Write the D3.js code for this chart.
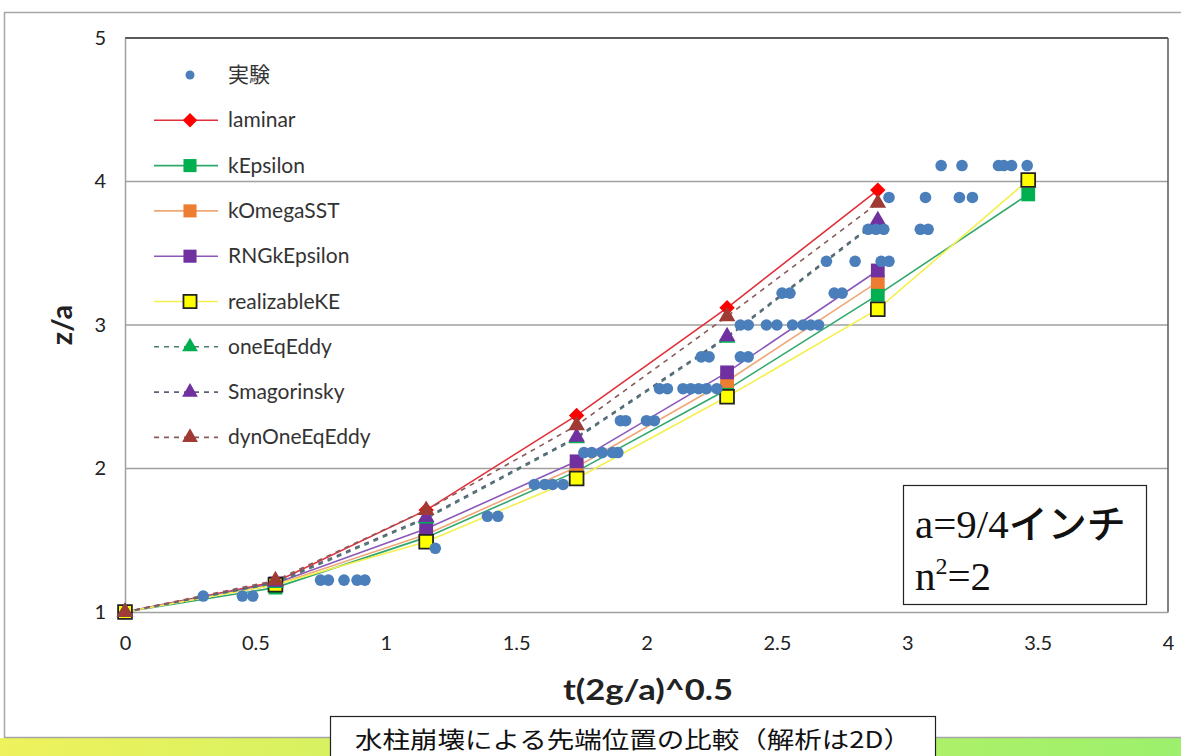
<!DOCTYPE html>
<html><head><meta charset="utf-8">
<script src="https://cdn.jsdelivr.net/npm/d3@7"></script>
<style>
html,body{margin:0;padding:0;background:#fff;}
svg{display:block;}
</style></head>
<body>
<svg id="c" width="1181" height="756"></svg>
<script>
// ---- data ----
const modelX = [0, 0.577, 1.155, 1.732, 2.309, 2.887, 3.464];
const laminar      = [1, 1.21, 1.71, 2.37, 3.12, 3.94];
const kEpsilon     = [1, 1.17, 1.52, 1.98, 2.55, 3.21, 3.91];
const kOmegaSST    = [1, 1.19, 1.54, 2.01, 2.61, 3.30];
const RNGkEpsilon  = [1, 1.20, 1.58, 2.05, 2.67, 3.38];
const realizableKE = [1, 1.19, 1.49, 1.93, 2.50, 3.11, 4.01];
const oneEqEddy    = [1, 1.20, 1.65, 2.21, 2.91, 3.72];
const Smagorinsky  = [1, 1.21, 1.66, 2.22, 2.92, 3.73];
const dynOneEqEddy = [1, 1.22, 1.71, 2.30, 3.06, 3.85];

const expX = [0.30,0.45,0.49, 0.75,0.78,0.84,0.89,0.92, 1.19, 1.39,1.43, 1.57,1.61,1.64,1.68,
  1.76,1.79,1.83,1.87,1.89, 1.90,1.92,2.00,2.03, 2.05,2.08,2.14,2.17,2.20,2.23,2.27,
  2.21,2.24,2.36,2.39, 2.36,2.39,2.46,2.50,2.56,2.60,2.63,2.66, 2.52,2.55,2.72,2.75,
  2.69,2.80,2.90,2.93, 2.85,2.88,2.91,3.05,3.08, 2.93,3.07,3.20,3.25, 3.13,3.21,3.35,3.37,3.40,3.46];
const expY = [1.111,1.111,1.111, 1.222,1.222,1.222,1.222,1.222, 1.444, 1.667,1.667, 1.889,1.889,1.889,1.889,
  2.111,2.111,2.111,2.111,2.111, 2.333,2.333,2.333,2.333, 2.556,2.556,2.556,2.556,2.556,2.556,2.556,
  2.778,2.778,2.778,2.778, 3.0,3.0,3.0,3.0,3.0,3.0,3.0,3.0, 3.222,3.222,3.222,3.222,
  3.444,3.444,3.444,3.444, 3.667,3.667,3.667,3.667,3.667, 3.889,3.889,3.889,3.889, 4.111,4.111,4.111,4.111,4.111,4.111];

const xTicks = [0, 0.5, 1, 1.5, 2, 2.5, 3, 3.5, 4];
const xTickLabels = ["0","0.5","1","1.5","2","2.5","3","3.5","4"];
const yTicks = [1, 2, 3, 4, 5];
const yTickLabels = ["1","2","3","4","5"];
const legendNames = ["実験","laminar","kEpsilon","kOmegaSST","RNGkEpsilon","realizableKE","oneEqEddy","Smagorinsky","dynOneEqEddy"];

// ---- series styling ----
const series = [
  {name:"laminar", y:laminar, line:"#e0303a", fill:"#ff0000", stroke:"none", sym:d3.symbolDiamond2, size:150, dash:null},
  {name:"kEpsilon", y:kEpsilon, line:"#30a86c", fill:"#00b050", stroke:"none", sym:d3.symbolSquare, size:190, dash:null},
  {name:"kOmegaSST", y:kOmegaSST, line:"#f0a878", fill:"#ed7d31", stroke:"none", sym:d3.symbolSquare, size:190, dash:null},
  {name:"RNGkEpsilon", y:RNGkEpsilon, line:"#8a58b8", fill:"#7030a0", stroke:"none", sym:d3.symbolSquare, size:190, dash:null},
  {name:"realizableKE", y:realizableKE, line:"#f4f050", fill:"#ffff00", stroke:"#222", sym:d3.symbolSquare, size:190, dash:null},
  {name:"oneEqEddy", y:oneEqEddy, line:"#4a7a70", fill:"#00b050", stroke:"none", sym:d3.symbolTriangle, size:120, dash:"5,5"},
  {name:"Smagorinsky", y:Smagorinsky, line:"#5a6078", fill:"#7030a0", stroke:"none", sym:d3.symbolTriangle, size:120, dash:"5,5"},
  {name:"dynOneEqEddy", y:dynOneEqEddy, line:"#8a5a5a", fill:"#a03a34", stroke:"none", sym:d3.symbolTriangle, size:120, dash:"5,5"}
];

const FONT = "Lato,'Liberation Sans',sans-serif";
const svg = d3.select("#c");
const W = 1181, H = 756;
const L = 125, R = 1168, T = 38, B = 612;

// bottom gradient band
const defs = svg.append("defs");
const g1 = defs.append("linearGradient").attr("id","band").attr("x1","0").attr("x2","1").attr("y1","0").attr("y2","0");
g1.append("stop").attr("offset","0").attr("stop-color","#eef25c");
g1.append("stop").attr("offset","1").attr("stop-color","#9cf06c");
svg.append("rect").attr("x",0).attr("y",738).attr("width",W).attr("height",H-738).attr("fill","url(#band)");
// outer chart frame
svg.append("rect").attr("x",4.5).attr("y",12.5).attr("width",W).attr("height",725).attr("fill","#fff").attr("stroke","#a6a6a6").attr("stroke-width",1.5);

const x = d3.scaleLinear().domain([0,4]).range([L,R]);
const y = d3.scaleLinear().domain([1,5]).range([B,T]);

// gridlines
svg.append("g").selectAll("line").data(yTicks.filter(v=>v>1 && v<5)).join("line")
  .attr("x1",L).attr("x2",R).attr("y1",d=>y(d)).attr("y2",d=>y(d))
  .attr("stroke","#a0a0a0").attr("stroke-width",1.5);
// plot frame top/right
svg.append("line").attr("x1",L).attr("x2",R).attr("y1",T).attr("y2",T).attr("stroke","#595959").attr("stroke-width",2);
svg.append("line").attr("x1",R).attr("x2",R).attr("y1",T).attr("y2",B).attr("stroke","#595959").attr("stroke-width",1.5);

// axes
const xAxis = d3.axisBottom(x).tickValues(xTicks).tickFormat((d,i)=>xTickLabels[i]).tickSize(0).tickPadding(24);
const gx = svg.append("g").attr("transform",`translate(0,${B})`).call(xAxis);
gx.select(".domain").attr("stroke","#a0a0a0").attr("stroke-width",1.5);
gx.selectAll("text").attr("font-family",FONT).attr("font-size",20).attr("fill","#222");
const yAxis = d3.axisLeft(y).tickValues(yTicks).tickFormat((d,i)=>yTickLabels[i]).tickSize(0).tickPadding(19);
const gy = svg.append("g").attr("transform",`translate(${L},0)`).call(yAxis);
gy.select(".domain").attr("stroke","#a0a0a0").attr("stroke-width",1.5);
gy.selectAll("text").attr("font-family",FONT).attr("font-size",20).attr("fill","#222");

// axis titles
svg.append("text").attr("x",648).attr("y",700).attr("text-anchor","middle")
  .attr("font-family",FONT).attr("font-weight","bold").attr("font-size",29).attr("fill","#222")
  .attr("textLength",170).attr("lengthAdjust","spacingAndGlyphs")
  .text("t(2g/a)^0.5");
svg.append("text").attr("transform",`translate(72,${(T+B)/2}) rotate(-90)`).attr("text-anchor","middle")
  .attr("font-family",FONT).attr("font-weight","bold").attr("font-size",29).attr("fill","#222")
  .text("z/a");

// lines
const lineGen = d3.line().x(d=>x(d[0])).y(d=>y(d[1]));
series.forEach(s=>{
  const pts = s.y.map((v,i)=>[modelX[i], v]);
  svg.append("path").attr("d",lineGen(pts)).attr("fill","none").attr("stroke",s.line).attr("stroke-width",1.6)
    .attr("stroke-dasharray",s.dash);
});
// markers (legend order, later on top)
series.forEach(s=>{
  const pts = s.y.map((v,i)=>[modelX[i], v]);
  svg.append("g").selectAll("path").data(pts).join("path")
    .attr("transform",d=>`translate(${x(d[0])},${y(d[1])})`)
    .attr("d",d3.symbol().type(s.sym).size(s.size))
    .attr("fill",s.fill).attr("stroke",s.stroke).attr("stroke-width",s.stroke==="none"?0:1.8);
});
// experiment points
const expPts = expX.map((v,i)=>[v, expY[i]]);
svg.append("g").selectAll("circle").data(expPts).join("circle")
  .attr("cx",d=>x(d[0])).attr("cy",d=>y(d[1])).attr("r",5.8).attr("fill","#4a7fbc");

// legend
const lg = svg.append("g");
const ly0 = 75, ldy = 45.3;
lg.append("circle").attr("cx",190).attr("cy",ly0).attr("r",4.5).attr("fill","#4a7fbc");
series.forEach((s,i)=>{
  const yy = ly0 + ldy*(i+1);
  lg.append("line").attr("x1",154).attr("x2",218).attr("y1",yy).attr("y2",yy).attr("stroke",s.line).attr("stroke-width",1.6).attr("stroke-dasharray",s.dash);
  lg.append("path").attr("transform",`translate(190,${yy})`).attr("d",d3.symbol().type(s.sym).size(s.size*0.9))
    .attr("fill",s.fill).attr("stroke",s.stroke).attr("stroke-width",s.stroke==="none"?0:1.8);
});
legendNames.forEach((n,i)=>{
  lg.append("text").attr("x",228).attr("y",ly0 + ldy*i + 7)
    .attr("font-family", i===0 ? "'Noto Sans CJK JP',sans-serif" : FONT)
    .attr("font-size",21).attr("fill","#333").text(n);
});

// annotation box
svg.append("rect").attr("x",903.5).attr("y",485.5).attr("width",243).attr("height",119).attr("fill","#fff").attr("stroke","#222").attr("stroke-width",1.2);
const t1 = svg.append("text").attr("x",915).attr("y",538).attr("font-family","'Liberation Serif',serif").attr("font-size",41).attr("fill","#111");
t1.append("tspan").text("a=9/4");
t1.append("tspan").attr("font-family","'Noto Sans CJK JP',sans-serif").attr("font-weight","500").attr("font-size",39).text("インチ");
const t2 = svg.append("text").attr("x",915).attr("y",590).attr("font-family","'Liberation Serif',serif").attr("font-size",41).attr("fill","#111");
t2.append("tspan").text("n");
t2.append("tspan").attr("font-size",24).attr("dy",-16).text("2");
t2.append("tspan").attr("dy",16).text("=2");

// caption box
svg.append("rect").attr("x",330.5).attr("y",716.5).attr("width",605).attr("height",45).attr("fill","#fff").attr("stroke","#222").attr("stroke-width",1.2);
svg.append("text").attr("x",633).attr("y",748).attr("text-anchor","middle")
  .attr("font-family","'Noto Sans CJK JP',sans-serif").attr("font-size",23).attr("fill","#111")
  .attr("textLength",556).attr("lengthAdjust","spacingAndGlyphs")
  .text("水柱崩壊による先端位置の比較（解析は2D）");
</script>
</body></html>
